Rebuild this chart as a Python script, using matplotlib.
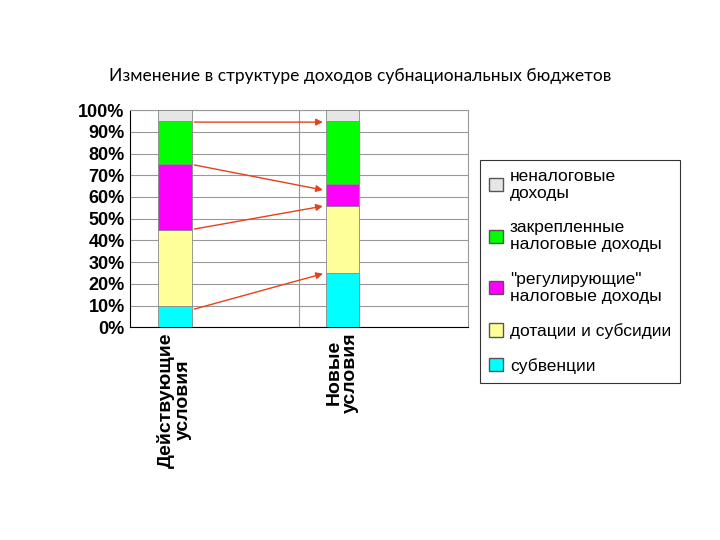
import matplotlib
matplotlib.use("Agg")
import matplotlib.pyplot as plt
from matplotlib.patches import Patch

categories = ["Действующие\nусловия", "Новые\nусловия"]
series_names = ["субвенции", "дотации и субсидии", "\"регулирующие\"\nналоговые доходы",
                "закрепленные\nналоговые доходы", "неналоговые\nдоходы"]
subv = [10, 25]
dot = [35, 31]
reg = [30, 10]
zakr = [20, 29]
nenal = [5, 5]
colors = ["#00FFFF", "#FFFF99", "#FF00FF", "#00FF00", "#E6E6E6"]

fig = plt.figure(figsize=(7.2, 5.4), dpi=100)
fig.text(0.5, 0.86, "Изменение в структуре доходов субнациональных бюджетов",
         ha="center", va="center", fontsize=12.5, family="Lato")
ax = fig.add_axes([0.18, 0.394, 0.47, 0.402])
x = [0, 1]
bottom = [0, 0]
for vals, c in zip([subv, dot, reg, zakr, nenal], colors):
    ax.bar(x, vals, 0.2, bottom=bottom, color=c, edgecolor="#888888", linewidth=0.6, zorder=3)
    bottom = [b + v for b, v in zip(bottom, vals)]
ax.set_xlim(-0.27, 1.75)
ax.set_ylim(0, 100)
ax.set_yticks(range(0, 101, 10))
ax.set_yticklabels([f"{v}%" for v in range(0, 101, 10)], fontsize=13, fontweight="bold",
                   family="Liberation Sans")
ax.set_xticks(x)
ax.set_xticklabels(categories, rotation=90, fontsize=14, fontweight="bold",
                   family="Liberation Sans", va="top", linespacing=1.0)
ax.tick_params(length=0)
ax.grid(axis="y", color="#999999", linewidth=0.8, zorder=0)
ax.axvline(0.74, color="#999999", linewidth=0.8, zorder=0)
for s in ["top", "right"]:
    ax.spines[s].set_color("#999999")
for s in ["left", "bottom"]:
    ax.spines[s].set_color("black")

arrows = [((0.1, 94.5), (0.9, 94.5)), ((0.1, 75), (0.9, 63)),
          ((0.1, 45), (0.9, 56)), ((0.1, 8), (0.9, 25))]
for (s, e) in arrows:
    ax.annotate("", xy=e, xytext=s,
                arrowprops=dict(arrowstyle="-|>", color="#E8401C", lw=1, mutation_scale=10), zorder=5)

handles = [Patch(facecolor=c, edgecolor="#555555") for c in colors[::-1]]
leg = fig.legend(handles, series_names[::-1], loc="upper left", bbox_to_anchor=(0.655, 0.72),
                 prop={"family": "Liberation Sans", "size": 12.5}, frameon=True,
                 fancybox=False, edgecolor="black", handlelength=0.8, handleheight=0.8,
                 labelspacing=1.1, borderpad=0.5, handletextpad=0.4)
leg.get_frame().set_linewidth(0.8)
fig.savefig("out.png", dpi=100)
